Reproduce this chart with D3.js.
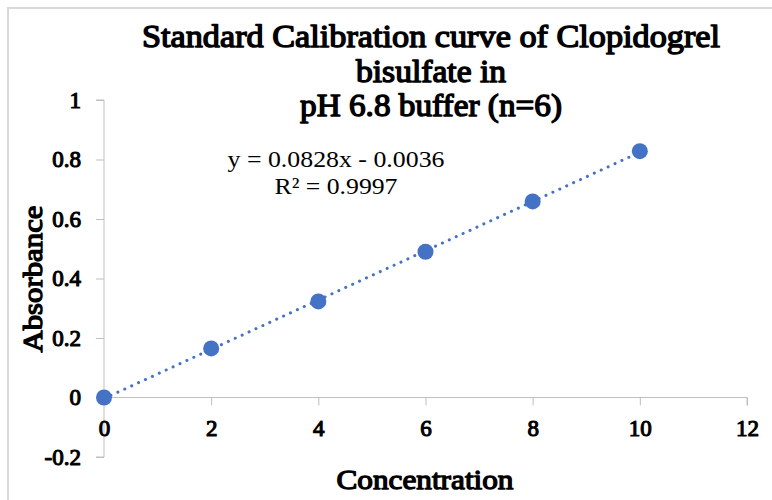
<!DOCTYPE html>
<html><head><meta charset="utf-8">
<script src="https://cdn.jsdelivr.net/npm/d3@7"></script>
<style>html,body{margin:0;padding:0;background:#fff;}</style>
</head><body>
<svg id="c" width="772" height="500"></svg>
<script>
const concentration = [0, 2, 4, 6, 8, 10];
const absorbance = [0, 0.165, 0.323, 0.490, 0.659, 0.828];
const xTicks = [0, 2, 4, 6, 8, 10, 12];
const yTicks = [-0.2, 0, 0.2, 0.4, 0.6, 0.8, 1];
const yTickLabels = ["-0.2", "0", "0.2", "0.4", "0.6", "0.8", "1"];
const slope = 0.0828, intercept = -0.0036;
const titleLines = ["Standard Calibration curve of Clopidogrel", "bisulfate in", "pH 6.8 buffer (n=6)"];
const equationText = "y = 0.0828x - 0.0036";
const r2Text = "R² = 0.9997";

const svg = d3.select("#c");
const serif = "Liberation Serif";
const blue = "#4472C4", grid = "#bfbfbf";

// faux bold: regular serif face with a thin stroke
function bold(sel, sw) {
  return sel.attr("font-family", serif).attr("font-weight", "normal").attr("fill", "#000")
    .attr("stroke", "#000").attr("stroke-width", sw || 1).attr("stroke-linejoin", "round");
}

// frame
svg.append("path").attr("d", "M8,500 V8 H772").attr("fill", "none").attr("stroke", "#d9d9d9").attr("stroke-width", 2);

const x = d3.scaleLinear().domain([0, 12]).range([104, 747]);
const y = d3.scaleLinear().domain([-0.2, 1]).range([457, 100]);

// y axis
const yAx = svg.append("g").attr("transform", `translate(${x(0)},0)`)
  .call(d3.axisLeft(y).tickValues(yTicks).tickSize(8).tickPadding(15).tickFormat((d, i) => yTickLabels[i]));
yAx.attr("font-family", null);
yAx.select(".domain").attr("stroke", grid).attr("d", `M-8,${y(1)}H0V${y(-0.2)}H-8`);
yAx.selectAll(".tick line").attr("stroke", grid);
bold(yAx.selectAll("text"), 1.1).attr("font-size", 23);

// x axis
const xAx = svg.append("g").attr("transform", `translate(0,${y(0)})`)
  .call(d3.axisBottom(x).tickValues(xTicks).tickSize(8).tickPadding(14));
xAx.attr("font-family", null);
xAx.select(".domain").attr("stroke", grid).attr("d", `M${x(0)},0H${x(12)}V8`);
xAx.selectAll(".tick line").attr("stroke", grid);
bold(xAx.selectAll("text"), 1.1).attr("font-size", 23);

// trendline
svg.append("line")
  .attr("x1", x(0)).attr("y1", y(slope * 0 + intercept))
  .attr("x2", x(10)).attr("y2", y(slope * 10 + intercept))
  .attr("stroke", blue).attr("stroke-width", 3).attr("stroke-linecap", "round")
  .attr("stroke-dasharray", "0.1 7.5");

// points
svg.selectAll("circle.pt").data(concentration).enter().append("circle")
  .attr("class", "pt")
  .attr("cx", d => x(d)).attr("cy", (d, i) => y(absorbance[i]))
  .attr("r", 8).attr("fill", blue);

// title
const tl = [{t: titleLines[0], y: 47, w: 578}, {t: titleLines[1], y: 82, w: 150}, {t: titleLines[2], y: 116, w: 262}];
bold(svg.selectAll("text.title").data(tl).enter().append("text")
  .attr("class", "title")
  .attr("x", 431).attr("y", d => d.y).attr("text-anchor", "middle"), 1.4)
  .attr("font-size", 32)
  .attr("textLength", d => d.w).attr("lengthAdjust", "spacingAndGlyphs")
  .text(d => d.t);

// equation
svg.append("text").attr("x", 336).attr("y", 167).attr("text-anchor", "middle")
  .attr("font-family", serif).attr("font-size", 23)
  .attr("textLength", 217).attr("lengthAdjust", "spacingAndGlyphs").text(equationText);
svg.append("text").attr("x", 336).attr("y", 194).attr("text-anchor", "middle")
  .attr("font-family", serif).attr("font-size", 23)
  .attr("textLength", 123).attr("lengthAdjust", "spacingAndGlyphs").text(r2Text);

// axis titles
bold(svg.append("text").attr("x", 425).attr("y", 489).attr("text-anchor", "middle"), 1.3)
  .attr("font-size", 28).attr("textLength", 177).attr("lengthAdjust", "spacingAndGlyphs")
  .text("Concentration");
bold(svg.append("text").attr("transform", "translate(42,279) rotate(-90)").attr("text-anchor", "middle"), 1.3)
  .attr("font-size", 28).attr("textLength", 147).attr("lengthAdjust", "spacingAndGlyphs")
  .text("Absorbance");
</script>
</body></html>
